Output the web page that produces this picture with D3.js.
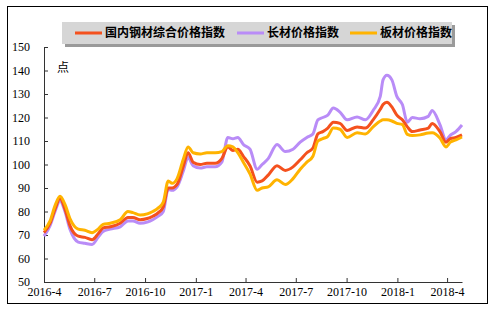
<!DOCTYPE html>
<html>
<head>
<meta charset="utf-8">
<script src="https://cdn.jsdelivr.net/npm/d3@7"></script>
<style>
  body { margin: 0; background: #fff; }
  svg { display: block; }
  .axis text { font-family: "Liberation Serif", "DejaVu Serif", serif; font-size: 12px; fill: #000; }
  .axis path, .axis line { stroke: #333; }
</style>
</head>
<body>
<svg id="chart"></svg>
<script>
// dates (roughly every 1-2 weeks)
const dates = [
  "2016-04-01","2016-04-12","2016-04-21","2016-04-30","2016-05-09","2016-05-18","2016-06-02","2016-06-14",
  "2016-06-27","2016-07-08","2016-07-17","2016-07-30","2016-08-17","2016-08-31","2016-09-09","2016-09-22",
  "2016-10-05","2016-10-15","2016-10-25","2016-11-03","2016-11-12","2016-11-19","2016-11-28","2016-12-09",
  "2016-12-18","2016-12-27","2017-01-09","2017-01-21","2017-02-05","2017-02-17","2017-02-28","2017-03-09",
  "2017-03-18","2017-03-28","2017-04-09","2017-04-22","2017-05-01","2017-05-12","2017-05-28","2017-06-12",
  "2017-06-26","2017-07-09","2017-07-21","2017-08-01","2017-08-10","2017-08-19","2017-08-28","2017-09-07",
  "2017-09-19","2017-10-02","2017-10-20","2017-11-04","2017-11-18","2017-12-01","2017-12-06","2017-12-13",
  "2017-12-22","2017-12-31","2018-01-10","2018-01-19","2018-01-28","2018-02-11","2018-02-26","2018-03-05",
  "2018-03-19","2018-03-30","2018-04-07","2018-04-17","2018-04-28"
];

// 国内钢材综合价格指数
const composite = [
  71, 75, 81, 85.5, 81, 74, 69.5, 69,
  68, 70.5, 73, 73.5, 75, 77.5, 77.5, 76.5,
  77, 78, 79.5, 82, 90, 90, 91.5, 99,
  105, 101, 100, 100.5, 100.5, 102.5, 107.5, 106,
  106.5, 103.5, 99.5, 92.5, 93, 95.5, 99.5, 97.5,
  99, 102, 105, 107, 113, 114, 115.5, 118,
  117.5, 114.5, 116, 115.5, 119, 123.5, 125.5, 126.5,
  124.5, 121, 119, 116, 114, 114.7, 115.5, 117.5,
  114, 109.5, 111, 111.5, 112.6
];

// 长材价格指数
const longSteel = [
  69.5, 74, 80, 84.5, 80, 72.5, 67, 66.5,
  66, 69, 71.5, 72.5, 73.5, 76, 76, 75,
  75.5, 76.5, 78, 80, 89.5, 89, 90.5, 97,
  103, 99.5, 98.5, 99, 99, 101, 111.5, 111,
  111.5, 108.5, 106.5, 98, 100, 102.5, 108.5, 105.5,
  106.5, 109.5, 111.5, 113, 119, 120, 121, 124,
  122.3, 119, 120.2, 119, 123, 129, 136, 138,
  136, 129, 125.5, 118, 120, 119.5, 120.5, 123,
  117, 110.5, 112.5, 114, 116.8
];

// 板材价格指数
const plate = [
  72, 76, 82.5, 86.5, 83, 77, 72.5, 72,
  71, 72.5, 74.5, 75, 76.5, 80, 79.5, 78.5,
  79, 80, 81.5, 84, 93, 92, 94, 102,
  107.5, 105, 104.5, 105, 105, 105.5, 108, 107.5,
  105, 101, 96, 89, 90, 90.5, 93.5, 91.5,
  94, 98, 101, 103.5, 110, 111, 112, 115.5,
  115, 111.5, 113.5, 113, 116, 118.5, 119, 119,
  118.5, 117.5, 117, 112.8, 112.3, 112.6, 113.4, 113.5,
  111.3, 107.5, 109.5, 110.5, 111.7
];

const tickDates = ["2016-04-01","2016-07-01","2016-10-01","2017-01-01","2017-04-01",
                   "2017-07-01","2017-10-01","2018-01-01","2018-04-01"];
const yTicks = [50, 60, 70, 80, 90, 100, 110, 120, 130, 140, 150];

const seriesNames = ["国内钢材综合价格指数", "长材价格指数", "板材价格指数"];
const seriesColors = ["#f4511e", "#b98cf7", "#ffb300"];

const width = 497, height = 312;
const parse = d3.timeParse("%Y-%m-%d");

const svg = d3.select("#chart").attr("width", width).attr("height", height);

// outer frame
svg.append("rect")
    .attr("x", 7.5).attr("y", 6.5)
    .attr("width", 480).attr("height", 297)
    .attr("fill", "#fff").attr("stroke", "#000");

const x = d3.scaleTime()
    .domain([parse("2016-04-01"), parse("2018-04-28")])
    .range([44, 462]);
const y = d3.scaleLinear().domain([50, 150]).range([282, 47]);

svg.append("g")
    .attr("class", "axis")
    .attr("transform", "translate(0,282)")
    .call(d3.axisBottom(x)
        .tickValues(tickDates.map(parse))
        .tickFormat(d3.timeFormat("%Y-%-m"))
        .tickSizeInner(-4).tickSizeOuter(0).tickPadding(5));

svg.append("g")
    .attr("class", "axis")
    .attr("transform", "translate(44,0)")
    .call(d3.axisLeft(y)
        .tickValues(yTicks)
        .tickSizeInner(-4).tickSizeOuter(0).tickPadding(14));

svg.append("text")
    .attr("x", 57).attr("y", 72)
    .attr("font-family", "Noto Sans CJK SC")
    .attr("font-size", 12)
    .text("点");

const line = d3.line()
    .x(d => x(d.date))
    .y(d => y(d.v))
    .curve(d3.curveMonotoneX);

const allSeries = [composite, longSteel, plate];
const drawOrder = [1, 0, 2];  // purple under red, yellow on top
drawOrder.forEach(i => {
    const pts = dates.map((s, k) => ({date: parse(s), v: allSeries[i][k]}));
    svg.append("path")
        .datum(pts)
        .attr("fill", "none")
        .attr("stroke", seriesColors[i])
        .attr("stroke-width", 3)
        .attr("stroke-linejoin", "round")
        .attr("d", line);
});

// legend
const legend = svg.append("g").attr("transform", "translate(62,22)");
legend.append("rect")
    .attr("x", 3).attr("y", 3).attr("width", 390).attr("height", 22)
    .attr("fill", "#9a9a9a");
legend.append("rect")
    .attr("width", 390).attr("height", 22)
    .attr("fill", "#d6d6d6");

const legendX = [13, 175, 288];
seriesNames.forEach((name, i) => {
    const g = legend.append("g").attr("transform", `translate(${legendX[i]},11)`);
    g.append("line")
        .attr("x1", 0).attr("x2", 27)
        .attr("stroke", seriesColors[i]).attr("stroke-width", 3);
    g.append("text")
        .attr("x", 30).attr("dy", "0.36em")
        .attr("font-family", "Noto Sans CJK SC")
        .attr("font-weight", "bold")
        .attr("font-size", 12)
        .text(name);
});
</script>
</body>
</html>
